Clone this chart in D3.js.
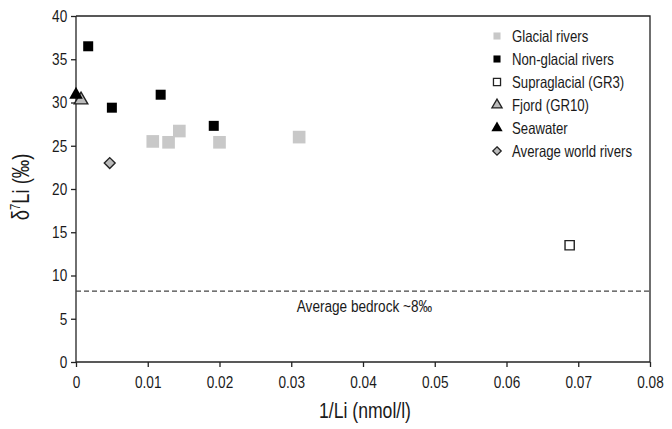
<!DOCTYPE html>
<meta charset="utf-8">
<style>
body { margin: 0; background: #fff; }
text { font-family: "Liberation Sans", Arial, sans-serif; fill: #1a1a1a; }
.axis path, .axis line { stroke: #222; stroke-width: 1.3px; }
.axis text { font-size: 17px; }
</style>
<body>
<script src="https://d3js.org/d3.v7.min.js"></script>
<script>

// data: [1/Li, d7Li]
var glacial = [[0.0107, 25.5], [0.0129, 25.4], [0.0144, 26.7], [0.0200, 25.4], [0.0311, 26.0]];
var nonGlacial = [[0.0017, 36.5], [0.0050, 29.4], [0.0118, 30.9], [0.0192, 27.3]];
var supraglacial = [[0.0688, 13.5]];
var fjord = [[0.0007, 30.3]];
var seawater = [[0.0, 30.9]];
var worldRivers = [[0.0047, 23.0]];
var bedrock = 8.2;
var xTicks = [0, 0.01, 0.02, 0.03, 0.04, 0.05, 0.06, 0.07, 0.08];
var yTicks = [0, 5, 10, 15, 20, 25, 30, 35, 40];
var legendNames = ["Glacial rivers", "Non-glacial rivers", "Supraglacial (GR3)", "Fjord (GR10)", "Seawater", "Average world rivers"];

var margin = {top: 16, right: 22, bottom: 67, left: 76},
    width = 672 - margin.left - margin.right,
    height = 429 - margin.top - margin.bottom;

// the original uses a condensed face, squeeze text horizontally
var squeeze = 0.8;

var svg = d3.select("body").append("svg")
    .attr("width", 672)
    .attr("height", 429)
  .append("g")
    .attr("transform", "translate(" + margin.left + "," + margin.top + ")");

var x = d3.scaleLinear().domain([0, 0.08]).range([0, width]);
var y = d3.scaleLinear().domain([0, 40]).range([height, 0]);

function label(px, py, size, anchor) {
  return svg.append("text")
      .attr("transform", "translate(" + px + "," + py + ") scale(" + squeeze + ",1)")
      .attr("text-anchor", anchor || "start")
      .style("font-size", size + "px");
}

// frame top + right
svg.append("path")
    .attr("d", "M0,0H" + width + "V" + height)
    .attr("fill", "none")
    .attr("stroke", "#222")
    .attr("stroke-width", 1.3);

svg.append("g")
    .attr("class", "axis")
    .attr("transform", "translate(0," + height + ")")
    .call(d3.axisBottom(x).tickValues(xTicks).tickSize(5).tickPadding(9)
        .tickFormat(function(d) { return d === 0 ? "0" : d3.format(".2f")(d); }))
    .call(function(g) { g.select(".domain").attr("d", "M0,0H" + width); })
    .call(function(g) { g.selectAll("text").attr("transform", "scale(" + squeeze + ",1)"); });

svg.append("g")
    .attr("class", "axis")
    .call(d3.axisLeft(y).tickValues(yTicks).tickSize(5).tickPadding(6))
    .call(function(g) { g.select(".domain").attr("d", "M0," + height + "V0"); })
    .call(function(g) { g.selectAll("text").attr("transform", "scale(" + squeeze + ",1)"); });

// bedrock line
svg.append("line")
    .attr("x1", 0).attr("x2", width)
    .attr("y1", y(bedrock)).attr("y2", y(bedrock))
    .attr("stroke", "#444")
    .attr("stroke-width", 1.2)
    .attr("stroke-dasharray", "5,3");

label(x(0.0402), y(bedrock) + 21, 17, "middle").text("Average bedrock ~8\u2030");

var styles = [
  {data: glacial, fill: "#c8c8c8", stroke: "none"},
  {data: nonGlacial, fill: "#000", stroke: "none"},
  {data: supraglacial, fill: "#fff", stroke: "#222"},
  {data: fjord, fill: "#bbb", stroke: "#222"},
  {data: seawater, fill: "#000", stroke: "none"},
  {data: worldRivers, fill: "#bbb", stroke: "#222"}
];
var types = [d3.symbolSquare, d3.symbolSquare, d3.symbolSquare, d3.symbolTriangle, d3.symbolTriangle, d3.symbolDiamond2];
var sizes = [160, 100, 85, 80, 80, 75];
var legendSizes = [50, 50, 50, 45, 55, 45];

styles.forEach(function(s, i) {
  svg.selectAll(".pt" + i)
      .data(s.data)
    .enter().append("path")
      .attr("transform", function(d) { return "translate(" + x(d[0]) + "," + y(d[1]) + ")"; })
      .attr("d", d3.symbol().type(types[i]).size(sizes[i]))
      .attr("fill", s.fill)
      .attr("stroke", s.stroke)
      .attr("stroke-width", 1.4);
});

// legend
legendNames.forEach(function(name, i) {
  var s = styles[i];
  svg.append("path")
      .attr("transform", "translate(421," + (20 + i * 23) + ")")
      .attr("d", d3.symbol().type(types[i]).size(legendSizes[i]))
      .attr("fill", s.fill)
      .attr("stroke", s.stroke)
      .attr("stroke-width", 1.3);
  label(436, 26 + i * 23, 16.5).text(name);
});

// axis titles
label(width / 2 + 2, height + 56, 22, "middle").text("1/Li (nmol/l)");

svg.append("text")
    .attr("transform", "translate(-47," + (height / 2 - 2) + ") rotate(-90) scale(" + squeeze + ",1)")
    .attr("text-anchor", "middle")
    .style("font-size", "23px")
    .html("\u03b4<tspan dy='-9' font-size='14px'>7</tspan><tspan dy='9'>Li (\u2030)</tspan>");

</script>
</body>
